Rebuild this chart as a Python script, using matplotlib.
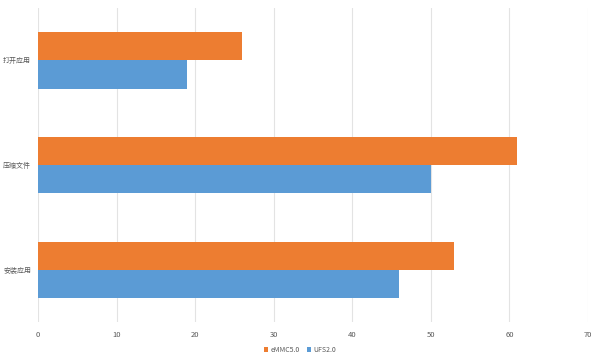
import numpy as np
import matplotlib
matplotlib.use("Agg")
import matplotlib.pyplot as plt

plt.rcParams['font.family'] = ['Noto Sans CJK SC', 'DejaVu Sans']

# Data
categories = ['打开应用', '压缩文件', '安装应用']
emmc = [26, 61, 53]
ufs = [19, 50, 46]
series_names = ['eMMC5.0', 'UFS2.0']
colors = ['#ED7D31', '#5B9BD5']
x_ticks = [0, 10, 20, 30, 40, 50, 60, 70]

fig = plt.figure(figsize=(6, 3.6), dpi=100)
ax = fig.add_axes([0.0633, 0.105, 0.9167, 0.873])

y = np.arange(len(categories))
h = 0.27
ax.barh(y - h / 2, emmc, height=h, color=colors[0], label=series_names[0], zorder=3)
ax.barh(y + h / 2, ufs, height=h, color=colors[1], label=series_names[1], zorder=3)

ax.set_ylim(len(categories) - 0.5, -0.5)
ax.set_xlim(0, 70)
ax.set_xticks(x_ticks)
ax.set_yticks(y)
ax.set_yticklabels(categories)
ax.tick_params(axis='both', length=0, colors='#595959')
ax.tick_params(axis='x', pad=6, labelsize=5.5)
ax.tick_params(axis='y', pad=5, labelsize=5)
ax.xaxis.grid(True, color='#E3E3E3', linewidth=0.8, zorder=0)
for s in ax.spines.values():
    s.set_visible(False)

leg = fig.legend(loc='lower center', bbox_to_anchor=(0.5, 0.0), ncol=2, frameon=False,
                 fontsize=5, handlelength=0.6, handleheight=0.6, handletextpad=0.3,
                 columnspacing=1.0, labelcolor='#595959')

fig.savefig('out.png', dpi=100, facecolor='white')
